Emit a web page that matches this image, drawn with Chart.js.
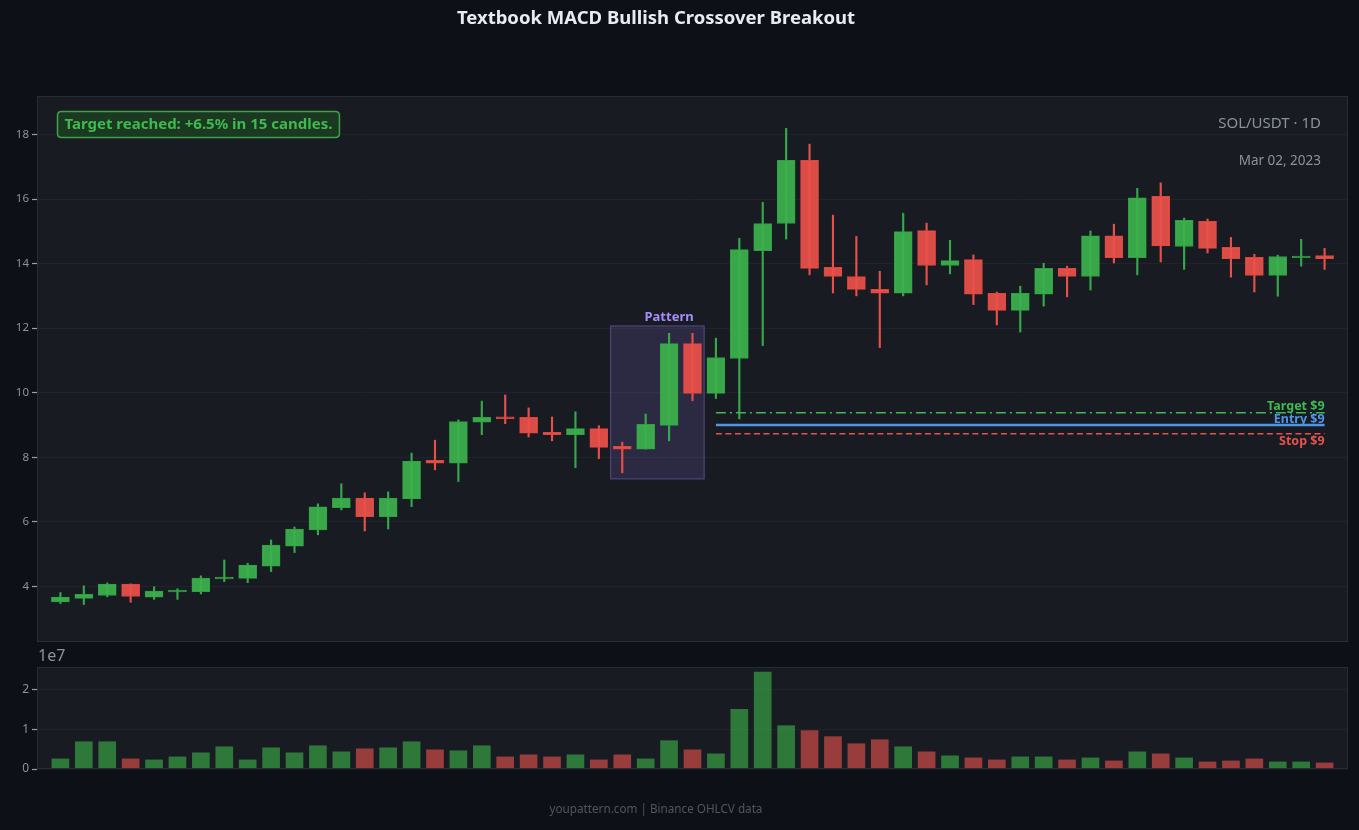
<!DOCTYPE html>
<html><head><meta charset="utf-8">
<script src="https://cdn.jsdelivr.net/npm/chart.js@4.4.1/dist/chart.umd.min.js"></script>
<style>
html,body{margin:0;padding:0;background:#0d1017;width:1359px;height:830px;overflow:hidden;}
#c1{position:absolute;left:0;top:0;}
#c2{position:absolute;left:0;top:645px;}
</style></head><body>
<canvas id="c1" width="1359" height="650"></canvas>
<canvas id="c2" width="1359" height="185"></canvas>
<script>
// ---- data ----
const opens  = [3.52,3.63,3.72,4.07,3.67,3.83,3.84,4.23,4.25,4.63,5.25,5.75,6.44,6.74,6.16,6.71,7.91,7.82,9.09,9.25,9.24,8.77,8.70,8.89,8.34,8.25,8.99,11.52,9.98,11.06,14.40,15.24,17.20,13.88,13.60,13.20,13.08,15.02,13.94,14.12,13.08,12.55,13.05,13.85,13.60,14.86,14.18,16.08,14.53,15.31,14.50,14.19,13.63,14.18,14.25];
const highs  = [3.81,4.02,4.11,4.08,3.99,3.93,4.33,4.82,4.72,5.44,5.84,6.56,7.18,6.90,6.93,8.13,8.53,9.16,9.74,9.93,9.53,9.25,9.41,8.98,8.47,9.34,11.84,11.84,11.69,14.78,15.90,18.19,17.70,15.50,14.84,13.76,15.56,15.25,14.72,14.27,13.12,13.30,14.01,13.92,15.01,15.22,16.33,16.50,15.41,15.38,14.81,14.29,14.26,14.75,14.47];
const lows   = [3.47,3.44,3.68,3.51,3.60,3.60,3.77,4.15,4.12,4.46,5.05,5.60,6.37,5.72,5.78,6.47,7.61,7.25,8.70,9.04,8.63,8.51,7.68,7.96,7.52,8.25,8.51,9.75,9.82,9.19,11.46,14.76,13.65,13.09,13.00,11.40,13.00,13.34,13.68,12.73,12.10,11.88,12.68,12.97,13.18,14.02,13.65,14.05,13.82,14.33,13.58,13.12,12.99,13.92,13.82];
const closes = [3.67,3.76,4.07,3.69,3.86,3.89,4.26,4.29,4.66,5.28,5.78,6.47,6.74,6.16,6.74,7.88,7.82,9.11,9.24,9.20,8.75,8.70,8.89,8.31,8.25,9.02,11.52,9.98,11.09,14.43,15.24,17.20,13.85,13.60,13.20,13.08,14.99,13.94,14.09,13.05,12.55,13.08,13.85,13.60,14.86,14.18,16.04,14.55,15.34,14.47,14.15,13.63,14.22,14.23,14.15];
const volumes = [2540000,6860000,6860000,2540000,2290000,3050000,4070000,5590000,2290000,5340000,4070000,5850000,4320000,5080000,5340000,6860000,4830000,4580000,5850000,3050000,3560000,3050000,3560000,2290000,3560000,2540000,7120000,4830000,3810000,15000000,24400000,10900000,9660000,8140000,6360000,7370000,5590000,4320000,3310000,2800000,2290000,3050000,3050000,2290000,2800000,2030000,4320000,3810000,2800000,1780000,2030000,2540000,1780000,1780000,1530000];
const priceTicks = [4,6,8,10,12,14,16,18];
const volumeTicks = [0,10000000,20000000];
const patternRange = [23.5, 27.5];      // candle index span
const patternPrice = [7.33, 12.07];
const levelRange = [28, 54];
const levelNames = ['Target $9','Entry $9','Stop $9'];
const levelValues = [9.38, 9.00, 8.73];
const chartTitle = 'Textbook MACD Bullish Crossover Breakout';
const noteText = 'Target reached: +6.5% in 15 candles.';
const symbolText = 'SOL/USDT · 1D';
const dateText = 'Mar 02, 2023';
const footerText = 'youpattern.com | Binance OHLCV data';

// ---- styles ----
const FONT = 'Noto Sans';
Chart.defaults.font.family = FONT;
const GREEN = '#3fb950', RED = '#e5534b';
const bodyFill = i => closes[i] >= opens[i] ? 'rgba(60,178,76,0.93)' : 'rgba(235,80,74,0.92)';
const bodyEdge = i => closes[i] >= opens[i] ? '#2f9e44' : '#d9463f';
const wickCol  = i => closes[i] >= opens[i] ? '#34a84a' : '#e5504a';
const volCol   = i => closes[i] >= opens[i] ? 'rgba(58,170,72,0.66)' : 'rgba(232,82,76,0.62)';
const idx = opens.map((_, i) => i);
const levelColors = ['#3fb950', '#4f95e8', '#e5534b'];
const levelDash = [[10,4,2,4], [], [6,3.5]];
const levelWidth = [1.5, 2.5, 1.5];
const X_MIN = -1, X_MAX = 55;

const xScaleOpts = {
  type: 'linear', min: X_MIN, max: X_MAX, display: false, offset: false, bounds: 'data', grace: 0,
  afterDataLimits: s => { s.min = X_MIN; s.max = X_MAX; }
};
const fitY = s => { s.width = 37; s.paddingTop = 0; s.paddingBottom = 0; };

const areaBg = {
  id: 'areaBg',
  beforeDraw(chart) {
    const {ctx, chartArea: a} = chart;
    ctx.save(); ctx.fillStyle = '#181b22';
    ctx.fillRect(a.left, a.top, a.right - a.left, a.bottom - a.top); ctx.restore();
  },
  afterDraw(chart) {
    const {ctx, chartArea: a} = chart;
    ctx.save(); ctx.strokeStyle = '#282c35'; ctx.lineWidth = 1;
    ctx.strokeRect(a.left + 0.5, a.top + 0.5, a.right - a.left - 1, a.bottom - a.top - 1);
    ctx.restore();
  }
};

function roundRect(ctx, x, y, w, h, r) {
  ctx.beginPath(); ctx.moveTo(x + r, y); ctx.lineTo(x + w - r, y); ctx.quadraticCurveTo(x + w, y, x + w, y + r);
  ctx.lineTo(x + w, y + h - r); ctx.quadraticCurveTo(x + w, y + h, x + w - r, y + h); ctx.lineTo(x + r, y + h);
  ctx.quadraticCurveTo(x, y + h, x, y + h - r); ctx.lineTo(x, y + r); ctx.quadraticCurveTo(x, y, x + r, y); ctx.closePath();
}

const mainDeco = {
  id: 'mainDeco',
  beforeDatasetsDraw(chart) {
    const {ctx, scales: {x, y}} = chart;
    const x0 = x.getPixelForValue(patternRange[0]), x1 = x.getPixelForValue(patternRange[1]);
    const y0 = y.getPixelForValue(patternPrice[1]), y1 = y.getPixelForValue(patternPrice[0]);
    ctx.save();
    ctx.fillStyle = 'rgba(150,120,225,0.17)'; ctx.fillRect(x0, y0, x1 - x0, y1 - y0);
    ctx.strokeStyle = 'rgba(150,120,225,0.38)'; ctx.lineWidth = 1.2; ctx.strokeRect(x0, y0, x1 - x0, y1 - y0);
    ctx.restore();
  },
  afterDraw(chart) {
    const {ctx, chartArea: a, scales: {x, y}} = chart;
    ctx.save();
    // title
    ctx.fillStyle = '#e8ecf1'; ctx.font = 'bold 18.5px ' + FONT; ctx.textAlign = 'center'; ctx.textBaseline = 'middle';
    ctx.fillText(chartTitle, 656, 19);
    // pattern label
    ctx.fillStyle = '#a78bfa'; ctx.font = 'bold 13px ' + FONT; ctx.textAlign = 'center'; ctx.textBaseline = 'middle';
    ctx.fillText('Pattern', x.getPixelForValue(26), y.getPixelForValue(patternPrice[1]) - 9);
    // level labels
    ctx.font = 'bold 12.5px ' + FONT; ctx.textAlign = 'right'; ctx.textBaseline = 'alphabetic';
    const lx = x.getPixelForValue(levelRange[1]);
    const offs = [-2.5, -2, 11.5];
    levelNames.forEach((t, k) => {
      ctx.fillStyle = levelColors[k];
      ctx.fillText(t, lx, y.getPixelForValue(levelValues[k]) + offs[k]);
    });
    // note box
    ctx.font = 'bold 15px ' + FONT;
    const tw = ctx.measureText(noteText).width;
    const bx = a.left + 20.5, by = a.top + 15.5, bw = tw + 14, bh = 26;
    roundRect(ctx, bx, by, bw, bh, 4);
    ctx.fillStyle = '#1b3820'; ctx.fill();
    ctx.strokeStyle = '#3aa34c'; ctx.lineWidth = 1.5; ctx.stroke();
    ctx.fillStyle = GREEN; ctx.textAlign = 'left'; ctx.textBaseline = 'middle';
    ctx.fillText(noteText, bx + 7, by + bh / 2 + 0.5);
    // symbol & date
    ctx.fillStyle = '#8b929b'; ctx.textAlign = 'right';
    ctx.font = '15px ' + FONT; ctx.fillText(symbolText, a.right - 27, 124);
    ctx.font = '13.5px ' + FONT; ctx.fillText(dateText, a.right - 27, 161);
    ctx.restore();
  }
};

const mainChart = new Chart(document.getElementById('c1'), {
  type: 'bar',
  data: {
    datasets: [
      {
        type: 'bar', label: 'body', order: 1, grouped: false,
        data: idx.map(i => ({x: i, y: [opens[i], closes[i]]})),
        backgroundColor: idx.map(bodyFill), borderColor: idx.map(bodyEdge),
        borderWidth: 1, borderSkipped: false, barThickness: 18
      },
      {
        type: 'bar', label: 'wick', order: 2, grouped: false,
        data: idx.map(i => ({x: i, y: [lows[i], highs[i]]})),
        backgroundColor: idx.map(wickCol), borderWidth: 0, barThickness: 1.5
      },
      ...levelValues.map((v, k) => ({
        type: 'line', label: levelNames[k], order: 0,
        data: levelRange.map(xv => ({x: xv, y: v})),
        borderColor: levelColors[k], borderWidth: levelWidth[k], borderDash: levelDash[k],
        pointRadius: 0, fill: false
      }))
    ]
  },
  options: {
    responsive: false, animation: false,
    layout: {padding: {top: 96, right: 11, bottom: 8, left: 0}},
    plugins: {legend: {display: false}, tooltip: {enabled: false}},
    scales: {
      x: xScaleOpts,
      y: {
        type: 'linear', position: 'left', min: 2.28, max: 19.19,
        afterBuildTicks: s => { s.ticks = priceTicks.map(v => ({value: v})); },
        afterFit: fitY,
        ticks: {color: '#8b929b', font: {size: 11.5}, padding: 3},
        grid: {color: 'rgba(255,255,255,0.035)', tickColor: '#9aa0a8', tickLength: 5, tickWidth: 1.2},
        border: {display: false}
      }
    }
  },
  plugins: [areaBg, mainDeco]
});

const volDeco = {
  id: 'volDeco',
  afterDraw(chart) {
    const {ctx} = chart;
    ctx.save();
    ctx.fillStyle = '#8b929b'; ctx.font = '16px ' + FONT; ctx.textAlign = 'left'; ctx.textBaseline = 'middle';
    ctx.fillText('1e7', 38, 11);
    ctx.fillStyle = '#50565f'; ctx.font = '11.7px ' + FONT; ctx.textAlign = 'center';
    ctx.fillText(footerText, 656, 165);
    ctx.restore();
  }
};

const volChart = new Chart(document.getElementById('c2'), {
  type: 'bar',
  data: {
    datasets: [{
      label: 'volume', grouped: false,
      data: idx.map(i => ({x: i, y: volumes[i]})),
      backgroundColor: idx.map(volCol), borderWidth: 0, barThickness: 17
    }]
  },
  options: {
    responsive: false, animation: false,
    layout: {padding: {top: 22, right: 11, bottom: 61, left: 0}},
    plugins: {legend: {display: false}, tooltip: {enabled: false}},
    scales: {
      x: xScaleOpts,
      y: {
        type: 'linear', position: 'left', min: 0, max: 25670000,
        afterBuildTicks: s => { s.ticks = volumeTicks.map(v => ({value: v})); },
        afterFit: fitY,
        ticks: {color: '#8b929b', font: {size: 12}, padding: 3, callback: v => String(v / 10000000)},
        grid: {color: 'rgba(255,255,255,0.035)', tickColor: '#9aa0a8', tickLength: 5, tickWidth: 1.2},
        border: {display: false}
      }
    }
  },
  plugins: [areaBg, volDeco]
});
</script></body></html>
